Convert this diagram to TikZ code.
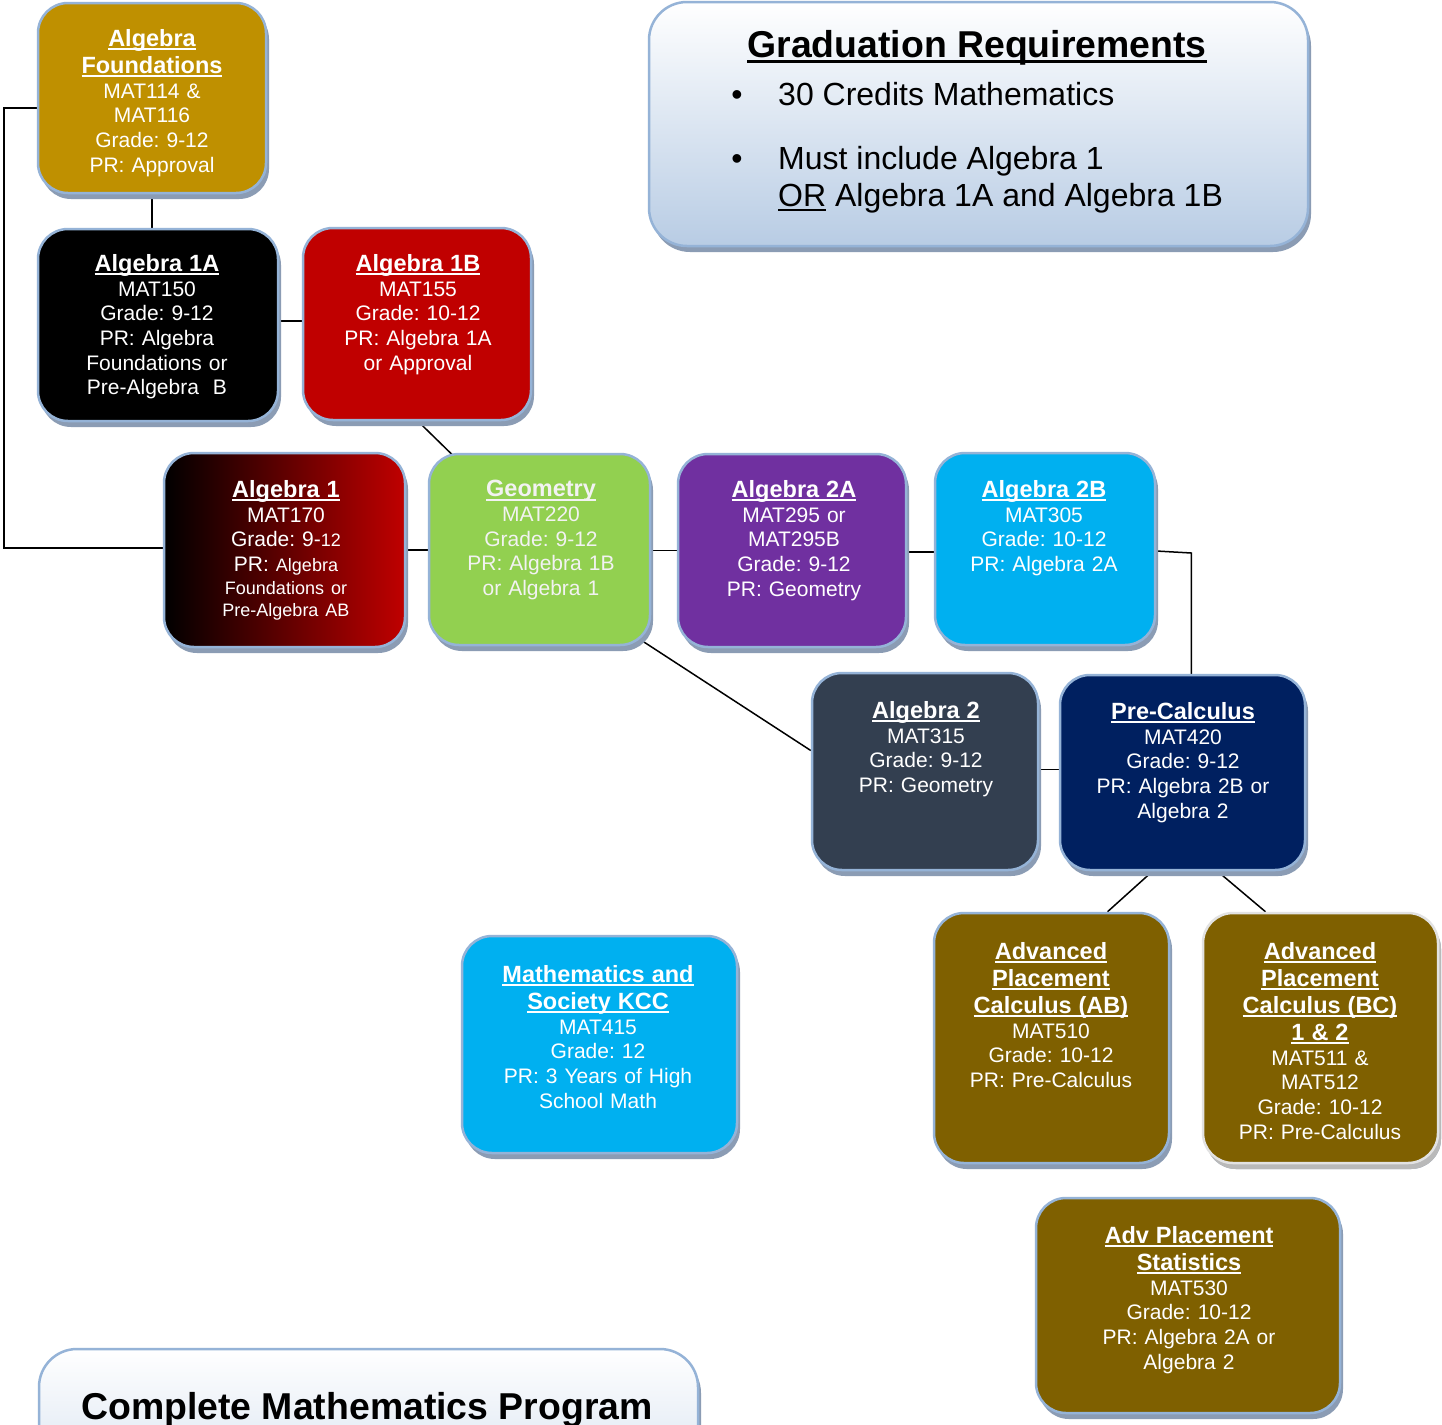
\documentclass[tikz,border=0pt]{standalone}
\usepackage{fontspec}
\setmainfont{Liberation Sans}
\usetikzlibrary{shadows,backgrounds,calc}
\definecolor{goldb}{RGB}{191,144,0}
\definecolor{redb}{RGB}{192,0,0}
\definecolor{greenb}{RGB}{146,208,80}
\definecolor{purpleb}{RGB}{112,48,160}
\definecolor{cyanb}{RGB}{0,176,240}
\definecolor{slateb}{RGB}{51,63,80}
\definecolor{navyb}{RGB}{0,32,96}
\definecolor{brownb}{RGB}{127,96,0}
\definecolor{bordc}{RGB}{149,179,215}
\definecolor{shadc}{RGB}{139,156,180}
\definecolor{lightbl}{RGB}{184,204,228}
\definecolor{graybord}{RGB}{226,226,226}
\definecolor{grayshad}{RGB}{185,185,185}
\definecolor{offwhite}{RGB}{242,242,242}
\frenchspacing
\newcommand\uln[1]{\leavevmode\setbox0\hbox{#1}\rlap{\rule[-0.16em]{\wd0}{0.08em}}\box0\relax}
\newcommand\ttl{\fontsize{23.5}{27}\selectfont\bfseries}
\newcommand\smf{\fontsize{18}{22.5}\selectfont}
\tikzset{
  course/.style={rectangle, rounded corners=30pt, draw=bordc, line width=2.5pt, inner sep=0pt,
    drop shadow={shadow xshift=3pt, shadow yshift=-6pt, fill=shadc, opacity=1}},
  ctext/.style={anchor=north, inner sep=0pt, text=white, font=\fontsize{21}{24.7}\selectfont\frenchspacing},
  link/.style={draw=black, line width=1.5pt},
  info/.style={inner sep=0pt, text=black},
}
\begin{document}
\begin{tikzpicture}[x=1pt,y=-1pt]
\useasboundingbox (0,0) rectangle (1442,1424);
% boxes
\node[course, fill=goldb, minimum width=228pt, minimum height=190pt] (af) at (152,98) {};
\node[course, fill=black, minimum width=240pt, minimum height=192pt] (a1a) at (158,325) {};
\node[course, fill=redb, minimum width=228pt, minimum height=192pt] (a1b) at (417,324) {};
\node[course, left color=black, right color=redb, minimum width=241pt, minimum height=194pt] (a1) at (284.5,550) {};
\node[course, fill=greenb, minimum width=221pt, minimum height=191pt] (geo) at (539.5,549.5) {};
\node[course, fill=purpleb, minimum width=228pt, minimum height=193pt] (a2a) at (792,550.5) {};
\node[course, fill=cyanb, minimum width=220pt, minimum height=192pt] (a2b) at (1045,549) {};
\node[course, fill=slateb, minimum width=226pt, minimum height=197pt] (alg2) at (925,771.5) {};
\node[course, fill=navyb, minimum width=245pt, minimum height=195pt] (pc) at (1182.5,772.5) {};
\node[course, fill=brownb, minimum width=235pt, minimum height=250pt] (ab) at (1051.5,1038) {};
\node[course, fill=brownb, draw=graybord, drop shadow={shadow xshift=3pt, shadow yshift=-6pt, fill=grayshad, opacity=1}, minimum width=235pt, minimum height=250pt] (bc) at (1320.5,1038) {};
\node[course, fill=cyanb, minimum width=275pt, minimum height=217pt] (ms) at (599.5,1044.5) {};
\node[course, fill=brownb, minimum width=304pt, minimum height=215pt] (st) at (1188,1305.5) {};
\node[course, rounded corners=38pt, top color=white, bottom color=lightbl, minimum width=659pt, minimum height=244pt] (grad) at (978.5,124) {};
\node[course, rounded corners=38pt, top color=white, bottom color=lightbl, minimum width=659pt, minimum height=251pt] (cmp) at (368.5,1474.5) {};
% texts
\node[ctext, text width=226pt] (aft) at (152,29.2) {\centering{\ttl\uln{Algebra}\\\uln{Foundations}\par}MAT114 \&\\MAT116\\Grade: 9-12\\PR: Approval\par};
\node[ctext, text width=238pt] (a1at) at (157,254.2) {\centering{\ttl\uln{Algebra 1A}\par}MAT150\\Grade: 9-12\\PR: Algebra\\Foundations or\\Pre-Algebra~ B\par};
\node[ctext, text width=226pt] (a1bt) at (418,254.2) {\centering{\ttl\uln{Algebra 1B}\par}MAT155\\Grade: 10-12\\PR: Algebra 1A\\or Approval\par};
\node[ctext, text width=238pt] (a1t) at (286,480.2) {\centering{\ttl\uln{Algebra 1}\par}MAT170\\Grade: 9-{\smf 12}\\PR: {\smf Algebra}\par{\smf Foundations or\\Pre-Algebra AB\par}};
\node[ctext, text width=219pt, text=offwhite] (geot) at (541,480.2) {\centering{\ttl\uln{Geometry}\par}MAT220\\Grade: 9-12\\PR: Algebra 1B\\or Algebra 1\par};
\node[ctext, text width=226pt] (a2at) at (794,480.2) {\centering{\ttl\uln{Algebra 2A}\par}MAT295 or\\MAT295B\\Grade: 9-12\\PR: Geometry\par};
\node[ctext, text width=218pt] (a2bt) at (1044,480.2) {\centering{\ttl\uln{Algebra 2B}\par}MAT305\\Grade: 10-12\\PR: Algebra 2A\par};
\node[ctext, text width=224pt] (alg2t) at (926,701.2) {\centering{\ttl\uln{Algebra 2}\par}MAT315\\Grade: 9-12\\PR: Geometry\par};
\node[ctext, text width=243pt] (pct) at (1183,702.2) {\centering{\ttl\uln{Pre-Calculus}\par}MAT420\\Grade: 9-12\\PR: Algebra 2B or\\Algebra 2\par};
\node[ctext, text width=233pt] (abt) at (1051,942.2) {\centering{\ttl\uln{Advanced}\\\uln{Placement}\\\uln{Calculus (AB)}\par}MAT510\\Grade: 10-12\\PR: Pre-Calculus\par};
\node[ctext, text width=233pt] (bct) at (1320,942.2) {\centering{\ttl\uln{Advanced}\\\uln{Placement}\\\uln{Calculus (BC)}\\\uln{1 \& 2}\par}MAT511 \&\\MAT512\\Grade: 10-12\\PR: Pre-Calculus\par};
\node[ctext, text width=273pt] (mst) at (598,965.2) {\centering{\ttl\uln{Mathematics and}\\\uln{Society KCC}\par}MAT415\\Grade: 12\\PR: 3 Years of High\\School Math\par};
\node[ctext, text width=302pt] (stt) at (1189,1226.2) {\centering{\ttl\uln{Adv Placement}\\\uln{Statistics}\par}MAT530\\Grade: 10-12\\PR: Algebra 2A or\\Algebra 2\par};
% graduation requirements
\node[info, anchor=base, font=\fontsize{37.4}{40}\selectfont\bfseries] (gtitle) at (977,57) {\uln{Graduation Requirements}};
\node[info, anchor=base, font=\fontsize{32}{36}\selectfont] (gb1) at (737,105) {•};
\node[info, anchor=base west, font=\fontsize{32}{36}\selectfont] (gl1) at (778,105) {30 Credits Mathematics};
\node[info, anchor=base, font=\fontsize{32}{36}\selectfont] (gb2) at (737,169) {•};
\node[info, anchor=base west, font=\fontsize{32}{36}\selectfont] (gl2) at (778,169) {Must include Algebra 1};
\node[info, anchor=base west, font=\fontsize{32}{36}\selectfont] (gl3) at (778,206) {\uln{OR} Algebra 1A and Algebra 1B};
\node[info, anchor=base, font=\fontsize{37.4}{40}\selectfont\bfseries] (cmpt) at (367,1419) {Complete Mathematics Program};
% connectors
\begin{pgfonlayer}{background}
\fill[white] (0,0) rectangle (1442,1424);
\draw[link] ([yshift=-10pt]af.west) -- ++(-33,0) |- ([yshift=2pt]a1.west);
\draw[link] (af.south) -- (af.south |- a1a.north);
\draw[link] ([yshift=4pt]a1a.east) -- ([yshift=4pt]a1a.east -| a1b.west);
\draw[link] ([xshift=1pt]a1b.south) -- ([xshift=-77pt,yshift=-12pt]geo.north);
\draw[link] (a1.east) -- (a1.east -| geo.west);
\draw[link] ([yshift=-1pt]geo.east) -- ([yshift=-1pt]geo.east -| a2a.west);
\draw[link] ([yshift=-1.5pt]a2a.east) -- ([yshift=-1.5pt]a2a.east -| a2b.west);
\draw[link] ([yshift=-2pt]a2b.east) -- ++(35,2) coordinate (k) -- (k |- pc.north);
\draw[link] ([xshift=-30pt,yshift=19pt]geo.south east) -- ([yshift=21pt]alg2.west);
\draw[link] ([yshift=2pt]alg2.east) -- ([yshift=2pt]alg2.east -| pc.west);
\draw[link] ([xshift=-30pt]pc.south) -- ([xshift=56pt]ab.north);
\draw[link] ([xshift=35pt]pc.south) -- ([xshift=-55pt]bc.north);
\end{pgfonlayer}
\end{tikzpicture}
\end{document}
